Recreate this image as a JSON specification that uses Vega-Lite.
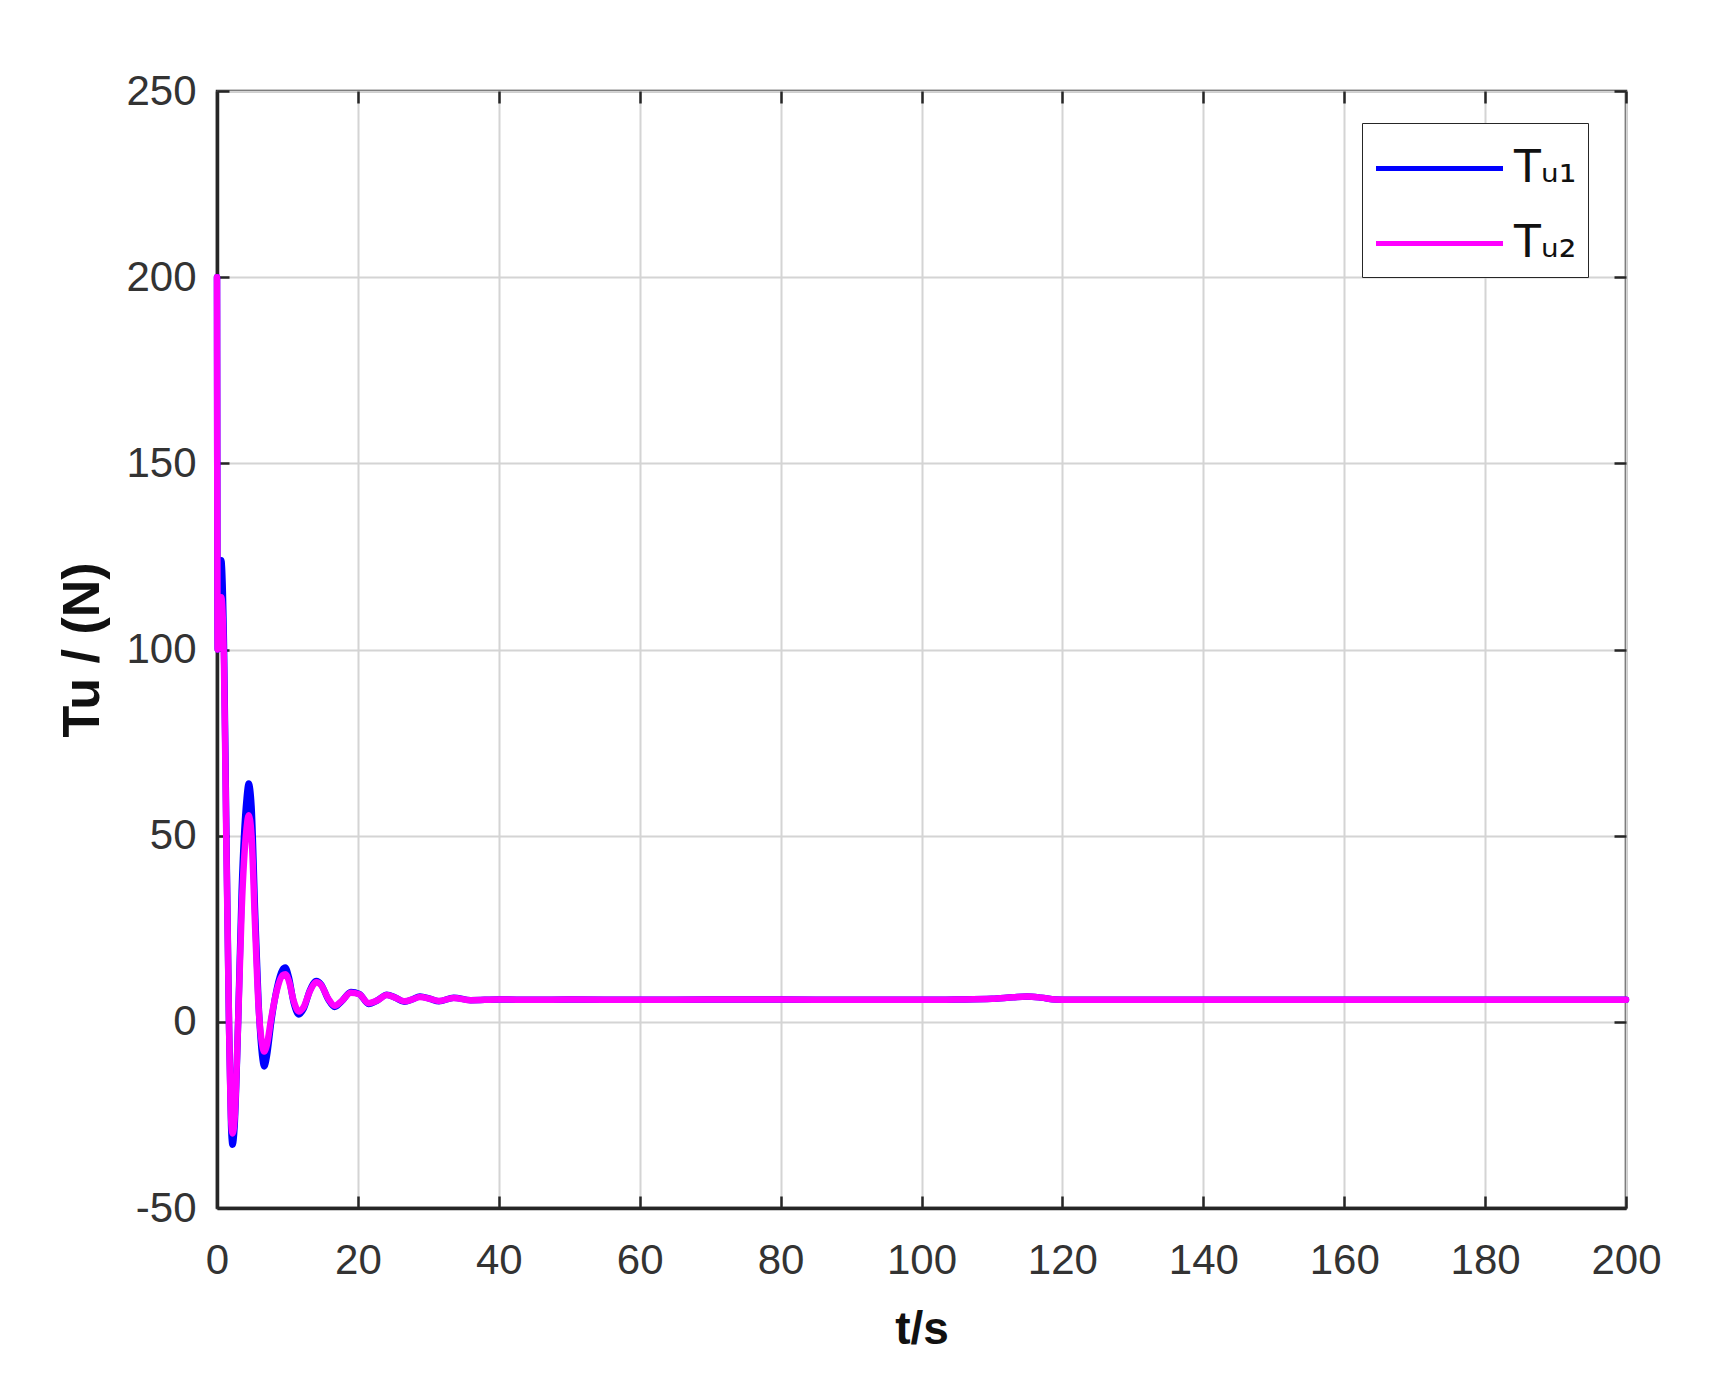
{
  "$schema": "https://vega.github.io/schema/vega-lite/v6.json",
  "autosize": "none",
  "width": 1409,
  "height": 1117,
  "padding": {"left": 217, "top": 91, "right": 101, "bottom": 185},
  "background": "white",
  "config": {
    "font": "Liberation Sans",
    "view": {"stroke": "#262626", "strokeWidth": 2.5},
    "axis": {
      "labelFont": "Liberation Sans",
      "labelFontSize": 42,
      "labelColor": "#333333",
      "titleFont": "Liberation Sans",
      "titleFontWeight": "bold",
      "titleFontSize": 46,
      "titleColor": "#111111",
      "gridColor": "#d4d4d4",
      "gridWidth": 2,
      "domainColor": "#262626",
      "domainWidth": 3.5,
      "tickColor": "#262626",
      "tickWidth": 2.5,
      "tickSize": -12
    }
  },
  "datasets": {
    "tu": [
      {"t": 0, "Tu": 200, "s": "Tᵤ₁"},
      {"t": 0.1, "Tu": 100, "s": "Tᵤ₁"},
      {"t": 0.6, "Tu": 124, "s": "Tᵤ₁"},
      {"t": 1.0, "Tu": 100, "s": "Tᵤ₁"},
      {"t": 1.3, "Tu": 55, "s": "Tᵤ₁"},
      {"t": 1.7, "Tu": 0, "s": "Tᵤ₁"},
      {"t": 2.0, "Tu": -28, "s": "Tᵤ₁"},
      {"t": 2.2, "Tu": -33, "s": "Tᵤ₁"},
      {"t": 2.5, "Tu": -28, "s": "Tᵤ₁"},
      {"t": 3.0, "Tu": 0, "s": "Tᵤ₁"},
      {"t": 3.5, "Tu": 35, "s": "Tᵤ₁"},
      {"t": 4.2, "Tu": 60, "s": "Tᵤ₁"},
      {"t": 4.5, "Tu": 64, "s": "Tᵤ₁"},
      {"t": 4.9, "Tu": 58, "s": "Tᵤ₁"},
      {"t": 5.4, "Tu": 30, "s": "Tᵤ₁"},
      {"t": 5.9, "Tu": 5, "s": "Tᵤ₁"},
      {"t": 6.4, "Tu": -9, "s": "Tᵤ₁"},
      {"t": 6.7, "Tu": -12, "s": "Tᵤ₁"},
      {"t": 7.1, "Tu": -9, "s": "Tᵤ₁"},
      {"t": 7.7, "Tu": 0, "s": "Tᵤ₁"},
      {"t": 8.5, "Tu": 9, "s": "Tᵤ₁"},
      {"t": 9.3, "Tu": 14, "s": "Tᵤ₁"},
      {"t": 9.7, "Tu": 14.6, "s": "Tᵤ₁"},
      {"t": 10.2, "Tu": 12, "s": "Tᵤ₁"},
      {"t": 10.9, "Tu": 5, "s": "Tᵤ₁"},
      {"t": 11.6, "Tu": 2, "s": "Tᵤ₁"},
      {"t": 12.3, "Tu": 3.5, "s": "Tᵤ₁"},
      {"t": 13.2, "Tu": 8.5, "s": "Tᵤ₁"},
      {"t": 14.1, "Tu": 11, "s": "Tᵤ₁"},
      {"t": 14.8, "Tu": 10, "s": "Tᵤ₁"},
      {"t": 15.8, "Tu": 6, "s": "Tᵤ₁"},
      {"t": 16.7, "Tu": 4, "s": "Tᵤ₁"},
      {"t": 17.7, "Tu": 5.5, "s": "Tᵤ₁"},
      {"t": 19.0, "Tu": 8, "s": "Tᵤ₁"},
      {"t": 20.2, "Tu": 7.5, "s": "Tᵤ₁"},
      {"t": 21.5, "Tu": 4.8, "s": "Tᵤ₁"},
      {"t": 22.8, "Tu": 5.8, "s": "Tᵤ₁"},
      {"t": 24.1, "Tu": 7.3, "s": "Tᵤ₁"},
      {"t": 25.3, "Tu": 6.5, "s": "Tᵤ₁"},
      {"t": 26.6, "Tu": 5.4, "s": "Tᵤ₁"},
      {"t": 27.7, "Tu": 6.0, "s": "Tᵤ₁"},
      {"t": 28.8, "Tu": 6.8, "s": "Tᵤ₁"},
      {"t": 30.2, "Tu": 6.2, "s": "Tᵤ₁"},
      {"t": 31.5, "Tu": 5.5, "s": "Tᵤ₁"},
      {"t": 33.6, "Tu": 6.5, "s": "Tᵤ₁"},
      {"t": 36, "Tu": 5.8, "s": "Tᵤ₁"},
      {"t": 40, "Tu": 6.0, "s": "Tᵤ₁"},
      {"t": 45, "Tu": 5.9, "s": "Tᵤ₁"},
      {"t": 50, "Tu": 6.0, "s": "Tᵤ₁"},
      {"t": 60, "Tu": 5.9, "s": "Tᵤ₁"},
      {"t": 70, "Tu": 6.0, "s": "Tᵤ₁"},
      {"t": 80, "Tu": 6.0, "s": "Tᵤ₁"},
      {"t": 90, "Tu": 5.9, "s": "Tᵤ₁"},
      {"t": 100, "Tu": 5.9, "s": "Tᵤ₁"},
      {"t": 105, "Tu": 6.0, "s": "Tᵤ₁"},
      {"t": 110, "Tu": 6.2, "s": "Tᵤ₁"},
      {"t": 113, "Tu": 6.6, "s": "Tᵤ₁"},
      {"t": 115, "Tu": 6.8, "s": "Tᵤ₁"},
      {"t": 117, "Tu": 6.5, "s": "Tᵤ₁"},
      {"t": 119, "Tu": 6.0, "s": "Tᵤ₁"},
      {"t": 121, "Tu": 5.9, "s": "Tᵤ₁"},
      {"t": 140, "Tu": 5.9, "s": "Tᵤ₁"},
      {"t": 160, "Tu": 5.9, "s": "Tᵤ₁"},
      {"t": 180, "Tu": 5.9, "s": "Tᵤ₁"},
      {"t": 200, "Tu": 5.9, "s": "Tᵤ₁"},
      {"t": 0, "Tu": 200, "s": "Tᵤ₂"},
      {"t": 0.1, "Tu": 100, "s": "Tᵤ₂"},
      {"t": 0.6, "Tu": 114, "s": "Tᵤ₂"},
      {"t": 1.0, "Tu": 95, "s": "Tᵤ₂"},
      {"t": 1.3, "Tu": 52, "s": "Tᵤ₂"},
      {"t": 1.7, "Tu": 0, "s": "Tᵤ₂"},
      {"t": 2.0, "Tu": -26, "s": "Tᵤ₂"},
      {"t": 2.2, "Tu": -30, "s": "Tᵤ₂"},
      {"t": 2.5, "Tu": -26, "s": "Tᵤ₂"},
      {"t": 3.0, "Tu": 0, "s": "Tᵤ₂"},
      {"t": 3.5, "Tu": 30, "s": "Tᵤ₂"},
      {"t": 4.2, "Tu": 52, "s": "Tᵤ₂"},
      {"t": 4.5, "Tu": 55.5, "s": "Tᵤ₂"},
      {"t": 4.9, "Tu": 50, "s": "Tᵤ₂"},
      {"t": 5.4, "Tu": 26, "s": "Tᵤ₂"},
      {"t": 5.9, "Tu": 4, "s": "Tᵤ₂"},
      {"t": 6.4, "Tu": -6, "s": "Tᵤ₂"},
      {"t": 6.7, "Tu": -8, "s": "Tᵤ₂"},
      {"t": 7.1, "Tu": -6, "s": "Tᵤ₂"},
      {"t": 7.7, "Tu": 1, "s": "Tᵤ₂"},
      {"t": 8.5, "Tu": 8.5, "s": "Tᵤ₂"},
      {"t": 9.3, "Tu": 12.5, "s": "Tᵤ₂"},
      {"t": 9.7, "Tu": 12.8, "s": "Tᵤ₂"},
      {"t": 10.2, "Tu": 11, "s": "Tᵤ₂"},
      {"t": 10.9, "Tu": 5.5, "s": "Tᵤ₂"},
      {"t": 11.6, "Tu": 2.8, "s": "Tᵤ₂"},
      {"t": 12.3, "Tu": 4, "s": "Tᵤ₂"},
      {"t": 13.2, "Tu": 8.3, "s": "Tᵤ₂"},
      {"t": 14.1, "Tu": 10.6, "s": "Tᵤ₂"},
      {"t": 14.8, "Tu": 9.8, "s": "Tᵤ₂"},
      {"t": 15.8, "Tu": 6.2, "s": "Tᵤ₂"},
      {"t": 16.7, "Tu": 4.3, "s": "Tᵤ₂"},
      {"t": 17.7, "Tu": 5.6, "s": "Tᵤ₂"},
      {"t": 19.0, "Tu": 7.8, "s": "Tᵤ₂"},
      {"t": 20.2, "Tu": 7.4, "s": "Tᵤ₂"},
      {"t": 21.5, "Tu": 5.0, "s": "Tᵤ₂"},
      {"t": 22.8, "Tu": 5.8, "s": "Tᵤ₂"},
      {"t": 24.1, "Tu": 7.2, "s": "Tᵤ₂"},
      {"t": 25.3, "Tu": 6.5, "s": "Tᵤ₂"},
      {"t": 26.6, "Tu": 5.5, "s": "Tᵤ₂"},
      {"t": 27.7, "Tu": 6.0, "s": "Tᵤ₂"},
      {"t": 28.8, "Tu": 6.7, "s": "Tᵤ₂"},
      {"t": 30.2, "Tu": 6.2, "s": "Tᵤ₂"},
      {"t": 31.5, "Tu": 5.6, "s": "Tᵤ₂"},
      {"t": 33.6, "Tu": 6.4, "s": "Tᵤ₂"},
      {"t": 36, "Tu": 5.8, "s": "Tᵤ₂"},
      {"t": 40, "Tu": 6.0, "s": "Tᵤ₂"},
      {"t": 45, "Tu": 5.9, "s": "Tᵤ₂"},
      {"t": 50, "Tu": 6.0, "s": "Tᵤ₂"},
      {"t": 60, "Tu": 5.9, "s": "Tᵤ₂"},
      {"t": 70, "Tu": 6.0, "s": "Tᵤ₂"},
      {"t": 80, "Tu": 6.0, "s": "Tᵤ₂"},
      {"t": 90, "Tu": 5.9, "s": "Tᵤ₂"},
      {"t": 100, "Tu": 5.9, "s": "Tᵤ₂"},
      {"t": 105, "Tu": 6.0, "s": "Tᵤ₂"},
      {"t": 110, "Tu": 6.2, "s": "Tᵤ₂"},
      {"t": 113, "Tu": 6.6, "s": "Tᵤ₂"},
      {"t": 115, "Tu": 6.8, "s": "Tᵤ₂"},
      {"t": 117, "Tu": 6.5, "s": "Tᵤ₂"},
      {"t": 119, "Tu": 6.0, "s": "Tᵤ₂"},
      {"t": 121, "Tu": 5.9, "s": "Tᵤ₂"},
      {"t": 140, "Tu": 5.9, "s": "Tᵤ₂"},
      {"t": 160, "Tu": 5.9, "s": "Tᵤ₂"},
      {"t": 180, "Tu": 5.9, "s": "Tᵤ₂"},
      {"t": 200, "Tu": 5.9, "s": "Tᵤ₂"}
    ]
  },
  "data": {"name": "tu"},
  "layer": [
    {
      "mark": {"type": "line", "strokeWidth": 6.5, "interpolate": "monotone", "strokeCap": "round"},
      "encoding": {
        "x": {
          "field": "t", "type": "quantitative",
          "scale": {"domain": [0, 200], "nice": false, "zero": false},
          "axis": {"title": "t/s", "values": [0,20,40,60,80,100,120,140,160,180,200], "labelPadding": 44, "titlePadding": 26, "labelFlush": false, "labelOverlap": false}
        },
        "y": {
          "field": "Tu", "type": "quantitative",
          "scale": {"domain": [-50, 250], "nice": false, "zero": false},
          "axis": {"title": "Tu / (N)", "titleFontSize": 52, "values": [-50,0,50,100,150,200,250], "labelExpr": "'' + datum.value", "labelPadding": 33, "titlePadding": 16, "labelFlush": false, "labelOverlap": false}
        },
        "color": {
          "field": "s", "type": "nominal",
          "scale": {"domain": ["Tᵤ₁", "Tᵤ₂"], "range": ["#0000ff", "#ff00ff"]},
          "legend": {
            "title": null,
            "orient": "none",
            "legendX": 1145,
            "legendY": 32,
            "symbolType": "M-2,0L2,0",
            "symbolSize": 4032,
            "symbolStrokeWidth": 5,
            "symbolOffset": 32,
            "labelOffset": 40,
            "labelFontSize": 44,
            "labelColor": "#111111",
            "labelFont": "DejaVu Sans",
            "strokeColor": "#262626",
            "fillColor": "white",
            "padding": 11,
            "rowPadding": 18
          }
        }
      }
    },
    {
      "mark": {"type": "line", "opacity": 0},
      "encoding": {
        "x": {"field": "t", "type": "quantitative", "axis": {"orient": "top", "title": null, "labels": false, "grid": false, "domain": false, "values": [0,20,40,60,80,100,120,140,160,180,200]}},
        "y": {"field": "Tu", "type": "quantitative", "axis": {"orient": "right", "title": null, "labels": false, "grid": false, "domain": false, "values": [-50,0,50,100,150,200,250]}}
      }
    }
  ],
  "resolve": {"axis": {"x": "independent", "y": "independent"}}
}
